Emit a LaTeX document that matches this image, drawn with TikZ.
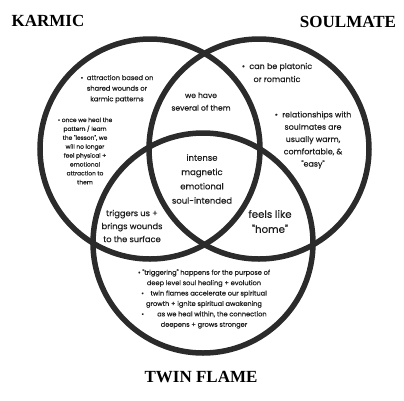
\documentclass[tikz,border=0pt]{standalone}
\usepackage{fontspec}
\setmainfont{Liberation Serif}
\newfontfamily\notefont[FakeBold=0.5]{Poppins}
\usepackage{xcolor}
\definecolor{ringcolor}{RGB}{43,43,43}
\definecolor{inkcolor}{RGB}{30,30,30}
\tikzset{
    ring/.style={circle, draw=ringcolor, line width=5.5pt,
        minimum size=220pt, inner sep=0pt},
    heading/.style={font=\fontsize{17}{19}\selectfont\bfseries, text=black},
    basenote/.style={align=center, text=inkcolor, inner sep=0pt},
    smallnote/.style={basenote, font=\notefont\fontsize{6.7}{10.6}\selectfont},
    tinynote/.style={basenote, font=\notefont\fontsize{5.9}{8.9}\selectfont},
    midnote/.style={basenote, font=\notefont\fontsize{7.6}{12.6}\selectfont},
    bignote/.style={basenote, font=\notefont\fontsize{10.2}{15}\selectfont}
}

\begin{document}
\begin{tikzpicture}[x=1pt, y=-1pt]
\useasboundingbox (0,0) rectangle (404,400);

% Circles
\node[ring] (karmicring) at (150,149) {};
\node[ring] (soulring) at (259,149) {};
\node[ring] (twinring) at (203,243) {};

% Headings
\node[heading] (karmic) at (48,21) {KARMIC};
\node[heading] (soulmate) at (348,22) {SOULMATE};
\node[heading] (twinflame) at (201,377) {TWIN FLAME};

% Karmic only
\node[smallnote] (karmicA) at (117,89)
{\textbullet\ \ attraction based on\\ shared wounds or\\ karmic patterns};
\node[tinynote] (karmicB) at (85,151)
{\textbullet\ once we heal the\\ pattern / learn\\ the "lesson", we\\ will no longer\\ feel physical +\\ emotional\\ attraction to\\ them};

% Karmic + soulmate
\node[midnote] (several) at (201,101.5) {we have\\ several of them};

% Soulmate only
\node[midnote, font=\notefont\fontsize{8}{13}\selectfont] (soulA) at (277,72.5)
{\textbullet\ \ can be platonic\\ or romantic};
\node[midnote, font=\notefont\fontsize{7.9}{12.3}\selectfont] (soulB) at (313,140)
{\textbullet\ \ relationships with\\ soulmates are\\ usually warm,\\ comfortable, \&\\ "easy"};

% All three
\node[midnote, font=\notefont\fontsize{8.5}{14.3}\selectfont] (core) at (202,179)
{intense\\ magnetic\\ emotional\\ soul-intended};

% Karmic + twin flame
\node[midnote, font=\notefont\fontsize{8.3}{13}\selectfont] (triggers) at (132,226)
{triggers us +\\ brings wounds\\ to the surface};

% Soulmate + twin flame
\node[bignote] (home) at (270,221.5) {feels like\\ "home"};

% Twin flame only
\node[smallnote, font=\notefont\fontsize{6.6}{10.4}\selectfont] (twinnotes) at (204,299)
{\textbullet\ "triggering" happens for the purpose of\\
deep level soul healing + evolution\\
\textbullet\quad twin flames accelerate our spiritual\\
growth + ignite spiritual awakening\\
\textbullet\qquad as we heal within, the connection\\
deepens + grows stronger};

\end{tikzpicture}
\end{document}
